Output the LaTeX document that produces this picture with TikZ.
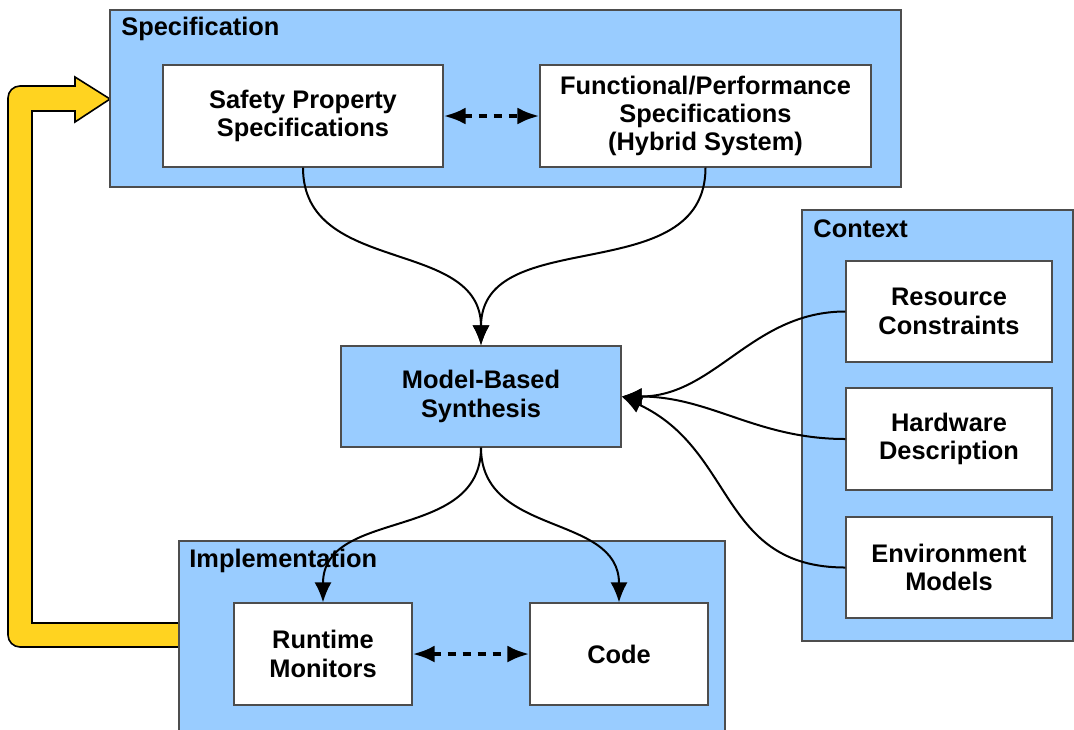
\documentclass[tikz,border=0pt]{standalone}
\usepackage{fontspec}
\setmainfont{Liberation Sans}
\usetikzlibrary{arrows.meta}
\definecolor{panelblue}{HTML}{99CCFF}
\definecolor{loopyellow}{HTML}{FFD320}
\definecolor{edgegray}{HTML}{4D4D4D}
\tikzset{
  panel/.style={draw=edgegray, line width=0.6pt, fill=panelblue, inner sep=0pt},
  box/.style={draw=edgegray, line width=0.6pt, fill=white, inner sep=0pt, align=center,
    font=\fontsize{12.7}{14.2}\selectfont\bfseries},
  synth/.style={box, fill=panelblue},
  paneltitle/.style={anchor=west, inner sep=0pt, font=\fontsize{12.7}{14.2}\selectfont\bfseries},
  conn/.style={line width=1pt, -{Latex[length=10pt,width=8.5pt]}},
  swap/.style={line width=2pt, dash pattern=on 4pt off 3.5pt,
    {Latex[length=11pt,width=8.5pt]}-{Latex[length=11pt,width=8.5pt]}}
}
\begin{document}
\begin{tikzpicture}[x=0.5pt, y=-0.5pt]
\useasboundingbox (0,0) rectangle (1074,729);

% feedback loop from implementation back to specification
\draw[fill=loopyellow, line width=0.8pt, rounded corners=6pt]
  (75,86) -- (8,86) -- (8,647) -- (190,647) [sharp corners] -- (190,623)
  -- (32,623) [rounded corners=0pt] -- (32,111) -- (75,111) -- (75,122) -- (110,99)
  -- (75,77) -- cycle;

% containers
\node[panel, minimum width=395.5pt, minimum height=88.5pt] (spec) at (505.5,98.5) {};
\node[panel, minimum width=135.5pt, minimum height=215.5pt] (ctx) at (937.5,425.5) {};
\node[panel, minimum width=273pt, minimum height=96pt] (impl) at (452,637) {};

\node[paneltitle] (spectitle) at (121,29) {Specification};
\node[paneltitle] (ctxtitle) at (813,229) {Context};
\node[paneltitle] (impltitle) at (189,561) {Implementation};

% specification boxes
\node[box, minimum width=140pt, minimum height=51pt] (safe) at (303,116)
  {Safety Property\\Specifications};
\node[box, minimum width=165.5pt, minimum height=51pt] (func) at (705.5,116)
  {Functional/Performance\\Specifications\\(Hybrid System)};

% context boxes
\node[box, minimum width=103pt, minimum height=50.5pt] (res) at (949,311.5)
  {Resource\\Constraints};
\node[box, minimum width=103pt, minimum height=51pt] (hw) at (949,439)
  {Hardware\\Description};
\node[box, minimum width=103pt, minimum height=50.5pt] (env) at (949,567.5)
  {Environment\\Models};

% synthesis
\node[synth, minimum width=140pt, minimum height=50.5pt] (mbs) at (481,396.5)
  {Model-Based\\Synthesis};

% implementation boxes
\node[box, minimum width=89pt, minimum height=51pt] (rm) at (323,654)
  {Runtime\\Monitors};
\node[box, minimum width=89pt, minimum height=51pt] (code) at (619,654)
  {Code};

% connectors
\draw[swap] (safe.east) -- (func.west);
\draw[swap] (rm.east) -- (code.west);

\draw[conn] (safe.south) to[out=-90, in=90, looseness=1.1] (mbs.north);
\draw[conn] (func.south) to[out=-90, in=90, looseness=1.1] (mbs.north);

\draw[conn] (res.west) to[out=180, in=0, looseness=1.0] (mbs.east);
\draw[conn] (hw.west) to[out=180, in=0, looseness=1.0] (mbs.east);
\draw[conn] (env.west) to[out=180, in=-25, looseness=1.15] (mbs.east);

\draw[conn] (mbs.south) to[out=-90, in=90, looseness=1.1] (rm.north);
\draw[conn] (mbs.south) to[out=-90, in=90, looseness=1.1] (code.north);
\end{tikzpicture}
\end{document}
